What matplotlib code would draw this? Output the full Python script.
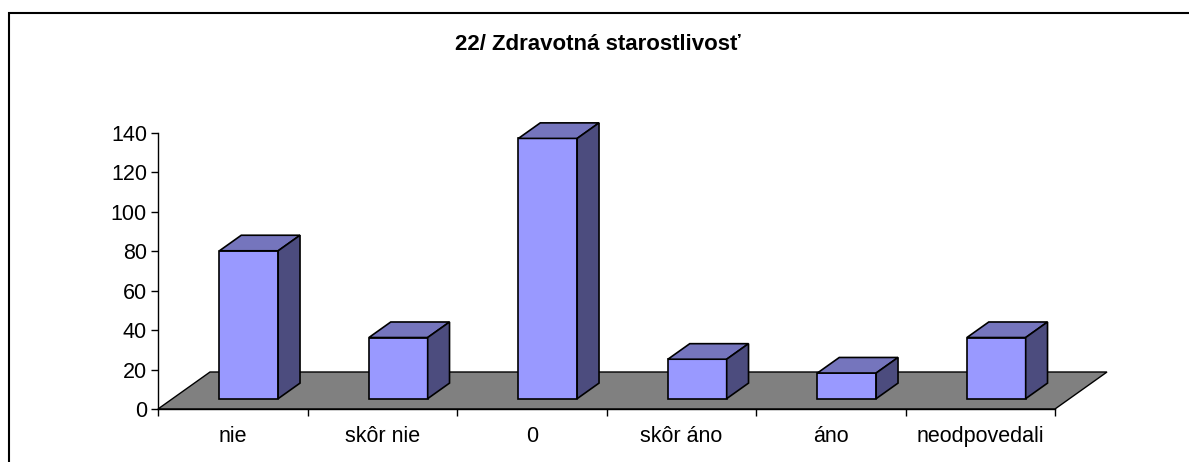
import numpy as np
import matplotlib.pyplot as plt
from matplotlib.patches import Polygon, Rectangle

categories = ["nie", "skôr nie", "0", "skôr áno", "áno", "neodpovedali"]
values = [75, 31, 132, 20, 13, 31]
y_ticks = [0, 20, 40, 60, 80, 100, 120, 140]
title = "22/ Zdravotná starostlivosť"

front_col = "#9999ff"
top_col = "#7575bd"
side_col = "#4c4c7e"
floor_col = "#808080"

plt.rcParams['font.family'] = ['Liberation Sans', 'DejaVu Sans']

W, H = 1189, 462
fig = plt.figure(figsize=(W / 100, H / 100), dpi=100)
ax = fig.add_axes([158 / W, (H - 409) / H, 897 / W, 276 / H])
n = len(categories)
ax.set_xlim(0, n)
ax.set_ylim(0, 140)

# oblique depth of the floor in data units
depth_x = 52 / 149.5
depth_y = 37 / (276 / 140)

floor = Polygon([(0, 0), (n, 0), (n + depth_x, depth_y), (depth_x, depth_y)],
                closed=True, fc=floor_col, ec="black", lw=1, clip_on=False, zorder=2)
ax.add_patch(floor)

bw = 0.393
f0, f1 = 0.28, 0.70
ddx = (f1 - f0) * depth_x
ddy = (f1 - f0) * depth_y
for i, v in enumerate(values):
    x0 = i + 0.51 - bw / 2 + f0 * depth_x
    yb = f0 * depth_y
    yt = yb + v
    faces = [
        ([(x0, yb), (x0 + bw, yb), (x0 + bw, yt), (x0, yt)], front_col),
        ([(x0, yt), (x0 + bw, yt), (x0 + bw + ddx, yt + ddy), (x0 + ddx, yt + ddy)], top_col),
        ([(x0 + bw, yb), (x0 + bw + ddx, yb + ddy), (x0 + bw + ddx, yt + ddy), (x0 + bw, yt)], side_col),
    ]
    for pts, c in faces:
        ax.add_patch(Polygon(pts, closed=True, fc=c, ec="black", lw=1.2,
                             clip_on=False, zorder=3, joinstyle="miter"))

for s in ["top", "right"]:
    ax.spines[s].set_visible(False)
ax.spines["left"].set_linewidth(1)
ax.spines["bottom"].set_linewidth(1)
ax.patch.set_alpha(0)

ax.set_yticks(y_ticks)
ax.tick_params(axis="y", length=5, width=1, direction="out", labelsize=15.5, pad=3)
ax.set_xticks(np.arange(n) + 0.5)
ax.set_xticklabels(categories)
ax.set_xticks(np.arange(n + 1), minor=True)
ax.tick_params(axis="x", which="major", length=0, labelsize=15.5, pad=12)
ax.tick_params(axis="x", which="minor", length=5, width=1, direction="out")

fig.text(598 / W, 1 - 44 / H, title, ha="center", va="center",
         fontsize=16, fontweight="bold")

border = Rectangle((9 / W, -1), 2, 1 + (H - 13) / H, transform=fig.transFigure,
                   fill=False, ec="black", lw=1.5)
fig.add_artist(border)

fig.savefig("out.png", dpi=100)
